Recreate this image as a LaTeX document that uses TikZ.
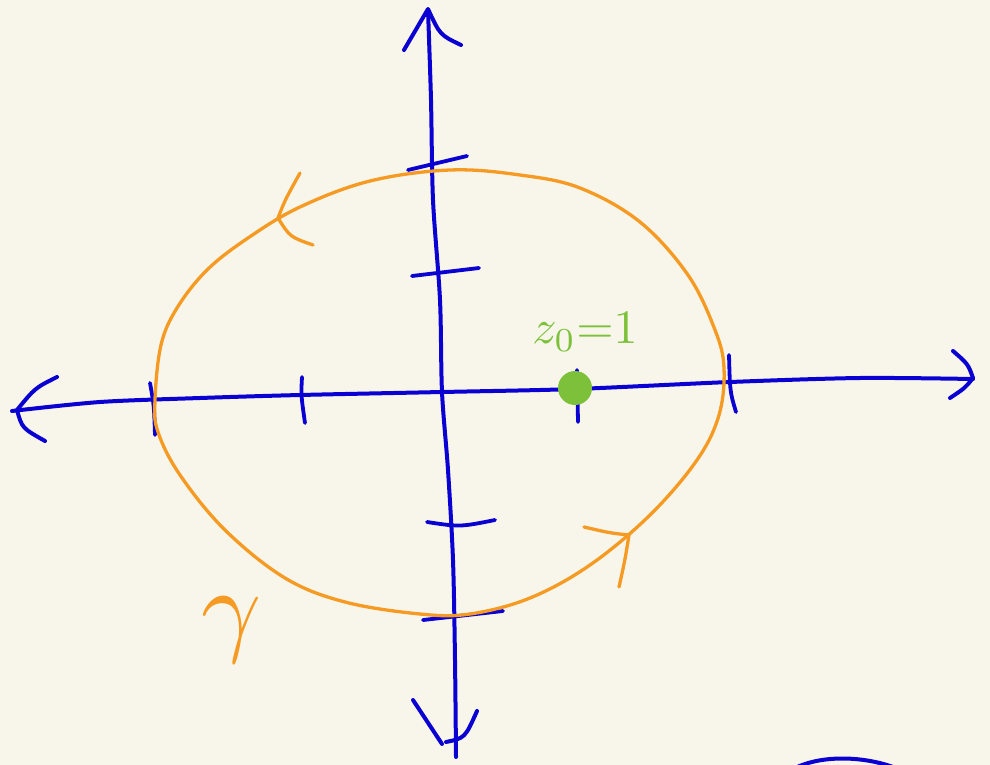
\documentclass[tikz,border=0pt]{standalone}
\usepackage{tikz}
\usetikzlibrary{positioning, calc}
\definecolor{paper}{HTML}{F8F6EA}
\definecolor{penblue}{HTML}{0A00D2}
\definecolor{penorange}{HTML}{F59A23}
\definecolor{pengreen}{HTML}{7DC13B}

\begin{document}
\begin{tikzpicture}[x=1pt, y=-1pt,
    axis/.style={penblue, line width=4pt, line cap=round, line join=round},
    tick/.style={penblue, line width=3.8pt, line cap=round},
    contour/.style={penorange, line width=3.3pt, line cap=round, line join=round}]

  % --- Paper ---
  \fill[paper] (0,0) rectangle (990,765);
  \useasboundingbox (0,0) rectangle (990,765);

  % --- Real axis ---
  \draw[axis] plot[smooth] coordinates {(12,411) (100,402) (200,398) (300,395)
    (442,392) (575,389) (730,382) (860,378) (973,379)};
  \draw[axis] (57,377) .. controls (35,388) .. (17,410)
    .. controls (22,428) .. (45,441);
  \draw[axis] (953,351) .. controls (968,364) .. (973,378)
    .. controls (965,388) .. (950,398);

  % --- Imaginary axis ---
  \draw[axis] plot[smooth] coordinates {(428,10) (431,100) (433,200) (440,300)
    (442,392) (448,470) (453,560) (455,660) (456,757)};
  \draw[axis] (404,50) -- (428,9) .. controls (440,35) .. (461,45);
  \draw[axis] (413,700) -- (442,744);
  \draw[axis] (477,711) .. controls (465,738) .. (446,742);

  % --- Ticks on real axis ---
  \draw[tick] (150,383) .. controls (154,405) .. (155,435);
  \draw[tick] (302,377) .. controls (301,395) .. (305,423);
  \draw[tick] (577,370) -- (578,422);
  \draw[tick] (729,355) .. controls (730,392) .. (736,412);

  % --- Ticks on imaginary axis ---
  \draw[tick] (408,170) -- (467,156);
  \draw[tick] (412,276) -- (479,268);
  \draw[tick] (427,522) .. controls (460,527) .. (495,520);
  \draw[tick] (423,620) -- (503,611);

  % --- Contour ---
  \draw[contour] plot[smooth cycle, tension=0.6] coordinates {(155,400) (161,345)
    (177,308) (207,270) (248,238) (300,207) (370,181) (450,170) (520,175)
    (580,188) (640,222) (688,275) (715,330) (724,368) (719,415) (697,460)
    (650,515) (590,565) (530,598) (470,614) (420,614) (345,602) (285,578)
    (225,530) (180,475) (158,432)};
  \draw[contour] (300,173) .. controls (285,200) .. (278,218)
    .. controls (290,237) .. (313,245);
  \draw[contour] (584,527) .. controls (610,533) .. (629,535)
    .. controls (625,560) .. (619,587);

  % --- Base point ---
  \node[circle, fill=pengreen, minimum size=34pt, inner sep=0pt] (zdot) at (575,388) {};
  \node[pengreen, scale=4.8] (zlabel) at (585,332) {$z_0{=}1$};

  % --- Contour name ---
  \node[penorange, scale=10.5] (gammalabel) at (232,630) {$\gamma$};

  % --- Stray stroke ---
  \draw[axis] (795,768) .. controls (822,755) and (862,756) .. (893,767);

\end{tikzpicture}
\end{document}
